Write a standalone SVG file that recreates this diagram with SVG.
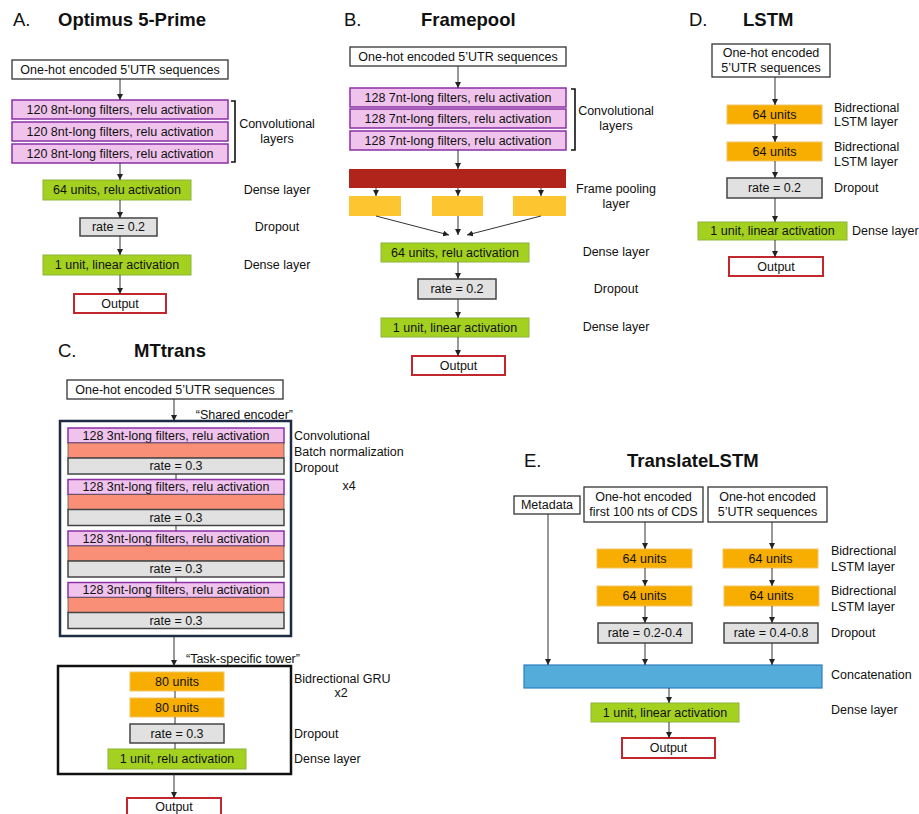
<svg xmlns="http://www.w3.org/2000/svg" width="919" height="814" viewBox="0 0 919 814">
<defs>
<marker id="ah" markerWidth="6" markerHeight="6" refX="6" refY="3" orient="auto" markerUnits="userSpaceOnUse">
<path d="M0,0 L6,3 L0,6 z" fill="#222"/>
</marker>
<style>
text{font-family:"Liberation Sans",Arial,sans-serif;font-size:12.5px;fill:#111}
.t{font-size:18.5px}
.b{font-weight:bold}
.c{text-anchor:middle;dominant-baseline:central}
.l{dominant-baseline:central}
.in{fill:#fff;stroke:#333;stroke-width:1.3}
.conv{fill:#f0c3ec;stroke:#8a2fa6;stroke-width:1.5}
.dense{fill:#a4d11f;stroke:#8cb43a;stroke-width:1}
.drop{fill:#e1e1e1;stroke:#444;stroke-width:1.5}
.out{fill:#fff;stroke:#c1272d;stroke-width:2}
.lstm{fill:#f7ae00;stroke:#f2c466;stroke-width:1}
.bn{fill:#fa8f78;stroke:#555;stroke-width:0.8}
.fp{fill:#b1241c}
.yel{fill:#fdc630}
.cat{fill:#53acd9;stroke:#2f7fc0;stroke-width:1.2}
.ar{stroke:#333;stroke-width:1;fill:none;marker-end:url(#ah)}
.ln{stroke:#333;stroke-width:1;fill:none}
.br{stroke:#111;stroke-width:1.6;fill:none}
</style>
</defs>

<!-- Panel A -->
<g id="panelA-title"><text x="13" y="26" class="t">A.</text><text x="58" y="26" class="t b">Optimus 5-Prime</text></g>
<g id="a-input"><rect x="12" y="60" width="216" height="19" class="in"/><text x="120" y="69.5" class="c">One-hot encoded 5’UTR sequences</text></g>
<g id="a-conv1"><rect x="12" y="100" width="216" height="19" class="conv"/><text x="120" y="109.5" class="c">120 8nt-long filters, relu activation</text></g>
<g id="a-conv2"><rect x="12" y="122" width="216" height="19" class="conv"/><text x="120" y="131.5" class="c">120 8nt-long filters, relu activation</text></g>
<g id="a-conv3"><rect x="12" y="144" width="216" height="19" class="conv"/><text x="120" y="153.5" class="c">120 8nt-long filters, relu activation</text></g>
<g id="a-bracket"><path d="M231,101 H235 V162 H231" class="br"/><text x="277" y="124" class="c">Convolutional</text><text x="277" y="139" class="c">layers</text></g>
<g id="a-dense1"><rect x="43" y="180" width="148" height="20" class="dense"/><text x="117" y="190" class="c">64 units, relu activation</text><text x="277" y="190" class="c">Dense layer</text></g>
<g id="a-drop"><rect x="80" y="218" width="77" height="18" class="drop"/><text x="118.5" y="227" class="c">rate = 0.2</text><text x="277" y="227" class="c">Dropout</text></g>
<g id="a-dense2"><rect x="43" y="255" width="148" height="20" class="dense"/><text x="117" y="265" class="c">1 unit, linear activation</text><text x="277" y="265" class="c">Dense layer</text></g>
<g id="a-out"><rect x="74" y="294" width="92" height="19" class="out"/><text x="120" y="303.5" class="c">Output</text></g>

<!-- Panel B -->
<g id="panelB-title"><text x="344" y="26" class="t">B.</text><text x="421" y="26" class="t b">Framepool</text></g>
<g id="b-input"><rect x="350" y="47" width="216" height="19" class="in"/><text x="458" y="56.5" class="c">One-hot encoded 5’UTR sequences</text></g>
<g id="b-conv1"><rect x="350" y="88" width="216" height="19" class="conv"/><text x="458" y="97.5" class="c">128 7nt-long filters, relu activation</text></g>
<g id="b-conv2"><rect x="350" y="109" width="216" height="19" class="conv"/><text x="458" y="118.5" class="c">128 7nt-long filters, relu activation</text></g>
<g id="b-conv3"><rect x="350" y="131" width="216" height="19" class="conv"/><text x="458" y="140.5" class="c">128 7nt-long filters, relu activation</text></g>
<g id="b-bracket"><path d="M571,89 H575 V150 H571" class="br"/><text x="616" y="111" class="c">Convolutional</text><text x="616" y="126" class="c">layers</text></g>
<g id="b-framepool"><rect x="349" y="169" width="217" height="19" class="fp"/><text x="616" y="189" class="c">Frame pooling</text><text x="616" y="203.5" class="c">layer</text></g>
<g id="b-pool1"><rect x="349" y="196" width="52" height="20" class="yel"/></g>
<g id="b-pool2"><rect x="432" y="196" width="51" height="20" class="yel"/></g>
<g id="b-pool3"><rect x="513" y="196" width="53" height="20" class="yel"/></g>
<g id="b-dense1"><rect x="381" y="243" width="148" height="19" class="dense"/><text x="455" y="252.5" class="c">64 units, relu activation</text><text x="616" y="252" class="c">Dense layer</text></g>
<g id="b-drop"><rect x="418" y="279" width="78" height="20" class="drop"/><text x="457" y="289" class="c">rate = 0.2</text><text x="616" y="289" class="c">Dropout</text></g>
<g id="b-dense2"><rect x="381" y="318" width="148" height="19" class="dense"/><text x="455" y="327.5" class="c">1 unit, linear activation</text><text x="616" y="327" class="c">Dense layer</text></g>
<g id="b-out"><rect x="412" y="356" width="93" height="19" class="out"/><text x="458.5" y="365.5" class="c">Output</text></g>

<!-- Panel D -->
<g id="panelD-title"><text x="689" y="26" class="t">D.</text><text x="743" y="26" class="t b">LSTM</text></g>
<g id="d-input"><rect x="712" y="44" width="118" height="33" class="in"/><text x="771" y="53" class="c">One-hot encoded</text><text x="771" y="68" class="c">5’UTR sequences</text></g>
<g id="d-lstm1"><rect x="727" y="105" width="95" height="19" class="lstm"/><text x="774.5" y="114.5" class="c">64 units</text><text x="834" y="108" class="l">Bidrectional</text><text x="834" y="122" class="l">LSTM layer</text></g>
<g id="d-lstm2"><rect x="727" y="142" width="95" height="19" class="lstm"/><text x="774.5" y="151.5" class="c">64 units</text><text x="834" y="147" class="l">Bidrectional</text><text x="834" y="162" class="l">LSTM layer</text></g>
<g id="d-drop"><rect x="727" y="178" width="95" height="20" class="drop"/><text x="774.5" y="188" class="c">rate = 0.2</text><text x="834" y="188" class="l">Dropout</text></g>
<g id="d-dense"><rect x="698" y="222" width="149" height="18" class="dense"/><text x="772.5" y="231" class="c">1 unit, linear activation</text><text x="852" y="231" class="l">Dense layer</text></g>
<g id="d-out"><rect x="729" y="257" width="94" height="19" class="out"/><text x="776" y="266.5" class="c">Output</text></g>

<!-- Panel C -->
<g id="panelC-title"><text x="58" y="357" class="t">C.</text><text x="134" y="357" class="t b">MTtrans</text></g>
<g id="c-input"><rect x="67" y="380" width="216" height="19" class="in"/><text x="175" y="389.5" class="c">One-hot encoded 5’UTR sequences</text></g>
<g id="c-encoder"><rect x="60" y="421" width="231" height="215" fill="#fff" stroke="#1d2b45" stroke-width="2.5"/><text x="293" y="415" class="l" text-anchor="end">“Shared encoder”</text>
<text x="294" y="436" class="l">Convolutional</text><text x="294" y="452" class="l">Batch normalization</text><text x="294" y="468" class="l">Dropout</text><text x="349" y="486" class="c">x4</text></g>
<g id="c-block1"><rect x="68" y="428" width="216" height="15" class="conv"/><text x="176" y="435.5" class="c">128 3nt-long filters, relu activation</text><rect x="68" y="443" width="216" height="15" class="bn"/><rect x="68" y="458" width="216" height="16" class="drop"/><text x="176" y="466" class="c">rate = 0.3</text></g>
<g id="c-block2"><rect x="68" y="479.5" width="216" height="15" class="conv"/><text x="176" y="487" class="c">128 3nt-long filters, relu activation</text><rect x="68" y="494.5" width="216" height="15" class="bn"/><rect x="68" y="509.5" width="216" height="16" class="drop"/><text x="176" y="517.5" class="c">rate = 0.3</text></g>
<g id="c-block3"><rect x="68" y="531" width="216" height="15" class="conv"/><text x="176" y="538.5" class="c">128 3nt-long filters, relu activation</text><rect x="68" y="546" width="216" height="15" class="bn"/><rect x="68" y="561" width="216" height="16" class="drop"/><text x="176" y="569" class="c">rate = 0.3</text></g>
<g id="c-block4"><rect x="68" y="582.5" width="216" height="15" class="conv"/><text x="176" y="590" class="c">128 3nt-long filters, relu activation</text><rect x="68" y="597.5" width="216" height="15" class="bn"/><rect x="68" y="612.5" width="216" height="16" class="drop"/><text x="176" y="620.5" class="c">rate = 0.3</text></g>
<g id="c-tower"><rect x="58" y="666" width="233" height="108" fill="#fff" stroke="#111" stroke-width="2.5"/><text x="186" y="659" class="l">“Task-specific tower”</text>
<text x="294" y="679" class="l">Bidrectional GRU</text><text x="341" y="693" class="c">x2</text><text x="294" y="734" class="l">Dropout</text><text x="294" y="759" class="l">Dense layer</text></g>
<g id="c-gru1"><rect x="130" y="672" width="94" height="19" class="lstm"/><text x="177" y="681.5" class="c">80 units</text></g>
<g id="c-gru2"><rect x="130" y="698" width="94" height="19" class="lstm"/><text x="177" y="707.5" class="c">80 units</text></g>
<g id="c-drop"><rect x="130" y="724" width="94" height="19" class="drop"/><text x="177" y="733.5" class="c">rate = 0.3</text></g>
<g id="c-dense"><rect x="108" y="749" width="138" height="20" class="dense"/><text x="177" y="759" class="c">1 unit, relu activation</text></g>
<g id="c-out"><rect x="127" y="798" width="94" height="20" class="out"/><text x="174" y="807" class="c">Output</text></g>

<!-- Panel E -->
<g id="panelE-title"><text x="524" y="467" class="t">E.</text><text x="627" y="467" class="t b">TranslateLSTM</text></g>
<g id="e-meta"><rect x="514" y="496" width="66" height="18" class="in"/><text x="547" y="505" class="c">Metadata</text></g>
<g id="e-cds"><rect x="584" y="487" width="119" height="35" class="in"/><text x="643.5" y="497" class="c">One-hot encoded</text><text x="643.5" y="512" class="c">first 100 nts of CDS</text></g>
<g id="e-utr"><rect x="708" y="487" width="119" height="35" class="in"/><text x="767.5" y="497" class="c">One-hot encoded</text><text x="767.5" y="512" class="c">5’UTR sequences</text></g>
<g id="e-lstm1a"><rect x="597" y="549" width="95" height="19" class="lstm"/><text x="644.5" y="558.5" class="c">64 units</text></g>
<g id="e-lstm1b"><rect x="723" y="549" width="95" height="19" class="lstm"/><text x="770.5" y="558.5" class="c">64 units</text></g>
<g id="e-lstm2a"><rect x="597" y="586" width="95" height="20" class="lstm"/><text x="644.5" y="596" class="c">64 units</text></g>
<g id="e-lstm2b"><rect x="724" y="586" width="95" height="20" class="lstm"/><text x="771.5" y="596" class="c">64 units</text></g>
<g id="e-labels"><text x="831" y="551" class="l">Bidrectional</text><text x="831" y="567" class="l">LSTM layer</text><text x="831" y="591" class="l">Bidrectional</text><text x="831" y="607" class="l">LSTM layer</text><text x="831" y="633" class="l">Dropout</text><text x="831" y="675" class="l">Concatenation</text><text x="831" y="710" class="l">Dense layer</text></g>
<g id="e-dropa"><rect x="598" y="623" width="94" height="20" class="drop"/><text x="645" y="633" class="c">rate = 0.2-0.4</text></g>
<g id="e-dropb"><rect x="724" y="623" width="94" height="20" class="drop"/><text x="771" y="633" class="c">rate = 0.4-0.8</text></g>
<g id="e-concat"><rect x="524" y="665" width="298" height="23" class="cat"/></g>
<g id="e-dense"><rect x="591" y="703" width="148" height="19" class="dense"/><text x="665" y="712.5" class="c">1 unit, linear activation</text></g>
<g id="e-out"><rect x="622" y="738" width="93" height="20" class="out"/><text x="668.5" y="748" class="c">Output</text></g>

<!-- Connectors -->
<g id="connectors">
<line x1="120" y1="79" x2="120" y2="100" class="ar"/>
<line x1="120" y1="163" x2="120" y2="180" class="ar"/>
<line x1="120" y1="200" x2="120" y2="218" class="ar"/>
<line x1="120" y1="236" x2="120" y2="255" class="ar"/>
<line x1="120" y1="275" x2="120" y2="294" class="ar"/>

<line x1="458" y1="66" x2="458" y2="88" class="ar"/>
<line x1="458" y1="150" x2="458" y2="169" class="ar"/>
<line x1="376" y1="188" x2="376" y2="196" class="ar"/>
<line x1="458" y1="188" x2="458" y2="196" class="ar"/>
<line x1="541" y1="188" x2="541" y2="196" class="ar"/>
<line x1="376" y1="216" x2="449" y2="235" class="ar"/>
<line x1="458" y1="216" x2="458" y2="235" class="ar"/>
<line x1="541" y1="216" x2="467" y2="235" class="ar"/>
<line x1="458" y1="262" x2="458" y2="279" class="ar"/>
<line x1="458" y1="299" x2="458" y2="318" class="ar"/>
<line x1="458" y1="337" x2="458" y2="356" class="ar"/>

<line x1="775" y1="77" x2="775" y2="105" class="ar"/>
<line x1="775" y1="124" x2="775" y2="142" class="ar"/>
<line x1="775" y1="161" x2="775" y2="178" class="ar"/>
<line x1="775" y1="198" x2="775" y2="222" class="ar"/>
<line x1="775" y1="240" x2="775" y2="257" class="ar"/>

<line x1="174" y1="399" x2="174" y2="421" class="ar"/>
<line x1="176" y1="474" x2="176" y2="479.5" class="ln"/>
<line x1="176" y1="525.5" x2="176" y2="531" class="ln"/>
<line x1="176" y1="577" x2="176" y2="582.5" class="ln"/>
<line x1="174" y1="636" x2="174" y2="666" class="ar"/>
<line x1="175" y1="691" x2="175" y2="698" class="ln"/>
<line x1="175" y1="717" x2="175" y2="724" class="ln"/>
<line x1="175" y1="743" x2="175" y2="749" class="ln"/>
<line x1="174" y1="774" x2="174" y2="798" class="ar"/>

<line x1="645" y1="522" x2="645" y2="549" class="ar"/>
<line x1="645" y1="568" x2="645" y2="586" class="ar"/>
<line x1="645" y1="606" x2="645" y2="623" class="ar"/>
<line x1="645" y1="643" x2="645" y2="665" class="ar"/>
<line x1="772" y1="522" x2="772" y2="549" class="ar"/>
<line x1="772" y1="568" x2="772" y2="586" class="ar"/>
<line x1="772" y1="606" x2="772" y2="623" class="ar"/>
<line x1="772" y1="643" x2="772" y2="665" class="ar"/>
<line x1="548" y1="514" x2="548" y2="665" class="ar"/>
<line x1="669" y1="688" x2="669" y2="703" class="ar"/>
<line x1="669" y1="722" x2="669" y2="738" class="ar"/>
</g>
</svg>
